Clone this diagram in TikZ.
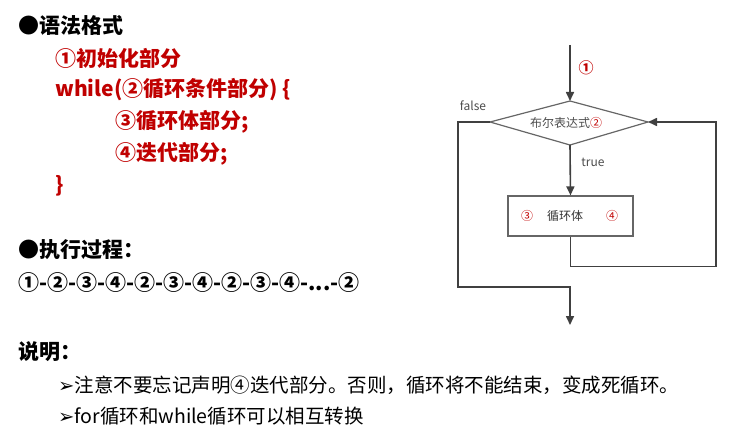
\documentclass[tikz,border=0pt]{standalone}
\usepackage{fontspec}
\setmainfont{Noto Sans CJK SC}
\newfontfamily\symfont{DejaVu Sans}
\usetikzlibrary{arrows.meta}
\definecolor{codered}{RGB}{192,0,0}
\begin{document}
\begin{tikzpicture}[x=1pt, y=-1pt, >={Triangle[length=9pt,width=8pt]},
  big/.style = {anchor=west, inner sep=0pt, font=\fontsize{21}{23}\selectfont\bfseries},
  code/.style = {big, text=codered},
  note/.style = {anchor=west, inner sep=0pt, font=\fontsize{19.5}{21}\selectfont},
  small/.style = {inner sep=1pt, font=\fontsize{12}{13}\selectfont},
  flow/.style = {draw=black!75, line width=1.6pt},
  ]
\useasboundingbox (0,0) rectangle (756,441);

\node[big] (T1) at (18,25) {●语法格式};
\node[code] (L1) at (55,58) {①初始化部分};
\node[code] (L2) at (55,90) {while(②循环条件部分) \{};
\node[code] (L3) at (115,122) {③循环体部分;};
\node[code] (L4) at (115,154) {④迭代部分;};
\node[code] (L5) at (55,186) {\}};
\node[big] (T2) at (18,250) {●执行过程：};
\node[big] (S) at (18,283) {①-②-③-④-②-③-④-②-③-④-...-②};
\node[big] (T3) at (18,352) {说明：};
\node[note] (N1) at (58,385) {{\symfont ➢}注意不要忘记声明④迭代部分。否则，循环将不能结束，变成死循环。};
\node[note] (N2) at (58,416) {{\symfont ➢}for循环和while循环可以相互转换};

\coordinate (start) at (570,45);
\coordinate (dtop) at (570,101);
\node[draw=black!60, line width=1.2pt, minimum width=125pt, minimum height=40pt] (body) at (570.5,216) {};
\draw[draw=black!60, line width=1.2pt] (490,122) coordinate (dl) -- (dtop) -- (648,122) coordinate (dr) -- (570,145) coordinate (db) -- cycle;
\node[small, text=black!70] (cond) at (566,123) {布尔表达式\textcolor{codered}{②}};
\node[small, text=codered] (c3) at (527,216) {③};
\node[small, text=black!80] (lb) at (565,216) {循环体};
\node[small, text=codered] (c4) at (612,216) {④};
\node[small, text=codered, font=\fontsize{15}{16}\selectfont\bfseries] (c1) at (586,68) {①};
\node[small, text=black!70] (fl) at (473,106) {false};
\node[small, text=black!70] (tr) at (593,162) {true};

\draw[flow, ->] (start) -- (dtop);
\draw[flow, ->] (db) -- (body.north);
\draw[flow, ->] (body.south) -- ++(0,30) -| (716,122) -- (dr);
\draw[flow, ->] (dl) -- (458,122) |- (570,287) -- (570,325);
\end{tikzpicture}
\end{document}
